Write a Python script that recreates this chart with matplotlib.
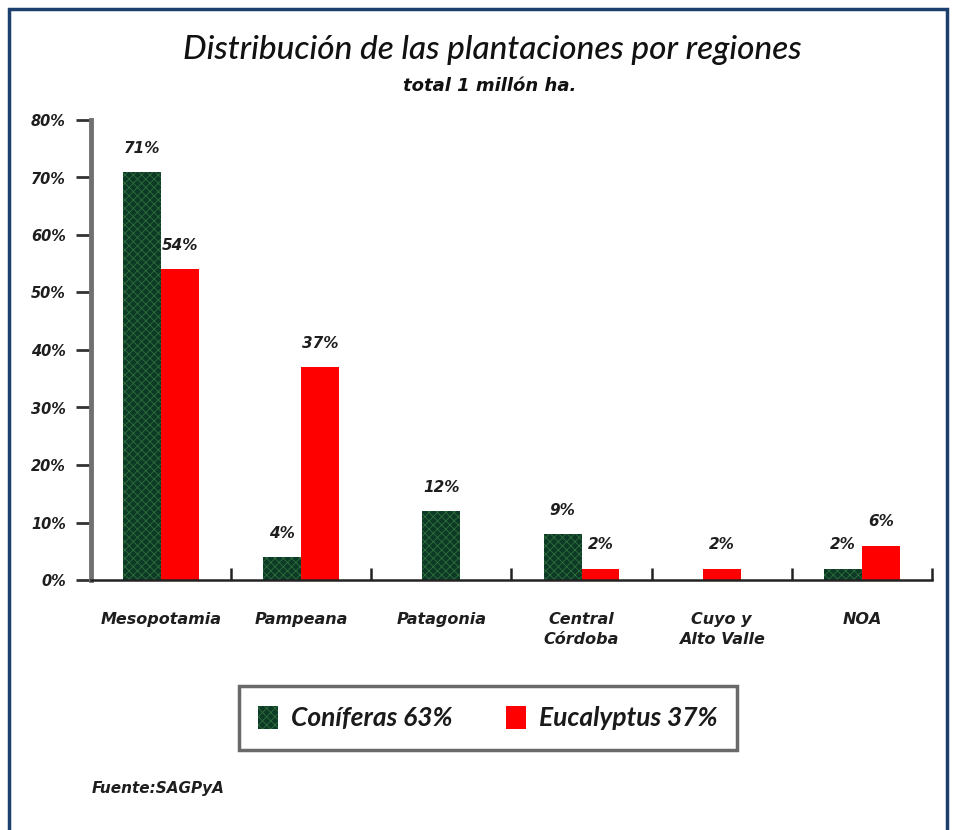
import matplotlib
matplotlib.use("Agg")
import matplotlib.pyplot as plt
from matplotlib.patches import Rectangle, Patch
import numpy as np

plt.rcParams['font.family'] = ['Lato', 'DejaVu Sans']
plt.rcParams['hatch.linewidth'] = 0.6

categories = ["Mesopotamia", "Pampeana", "Patagonia", "Central\nCórdoba", "Cuyo y\nAlto Valle", "NOA"]
coniferas = [71, 4, 12, 8, 0, 2]
eucalyptus = [54, 37, 0, 2, 2, 6]
coniferas_labels = ["71%", "4%", "12%", "9%", "", "2%"]
eucalyptus_labels = ["54%", "37%", "", "2%", "2%", "6%"]
yticks = [0, 10, 20, 30, 40, 50, 60, 70, 80]
ytick_labels = ["0%", "10%", "20%", "30%", "40%", "50%", "60%", "70%", "80%"]
legend_labels = ["Coníferas 63%", "Eucalyptus 37%"]
title = "Distribución de las plantaciones por regiones"
subtitle = "total 1 millón ha."
source = "Fuente:SAGPyA"

green = "#0c3a26"
green_hatch = "#2f6e3c"
red = "#ff0000"
txt = "#1e1e1e"
lab_font = dict(family=["DejaVu Sans"], fontweight="bold", fontstyle="italic", color=txt)

W, H = 954, 830
fig = plt.figure(figsize=(W / 100, H / 100), dpi=100)
ax = fig.add_axes([91 / W, 1 - 580 / H, (932 - 91) / W, (580 - 120) / H])

bw = 0.27
x = np.arange(len(categories))
for i in x:
    c, e = coniferas[i], eucalyptus[i]
    both = c > 0 and e > 0
    if c > 0:
        xc = i - bw / 2 if both else i
        ax.bar(xc, c, bw, color=green, edgecolor=green_hatch, hatch="xxxx", linewidth=0)
        ax.annotate(coniferas_labels[i], (xc, c), xytext=(0, 17), textcoords="offset points",
                    ha="center", va="center", fontsize=11, **lab_font)
    if e > 0:
        xe = i + bw / 2 if both else i
        ax.bar(xe, e, bw, color=red, linewidth=0)
        ax.annotate(eucalyptus_labels[i], (xe, e), xytext=(0, 17), textcoords="offset points",
                    ha="center", va="center", fontsize=11, **lab_font)

ax.set_xlim(-0.5, len(categories) - 0.5)
ax.set_ylim(0, 80)
ax.set_yticks(yticks)
ax.set_yticklabels(ytick_labels, fontsize=10.5, **lab_font)
ax.tick_params(axis="y", direction="out", length=11, width=2, color="#333333", pad=7)
ax.set_xticks(x)
ax.set_xticklabels(categories, fontsize=11.5, linespacing=1.45, va="top", **lab_font)
ax.tick_params(axis="x", length=0, pad=23)
ax.set_xticks(np.arange(0.5, len(categories), 1.0), minor=True)
ax.tick_params(axis="x", which="minor", direction="in", length=8.5, width=1.8, color="#222222")
for s in ["top", "right"]:
    ax.spines[s].set_visible(False)
ax.spines["left"].set_linewidth(3.5)
ax.spines["left"].set_color("#707070")
ax.spines["bottom"].set_linewidth(1.8)
ax.spines["bottom"].set_color("#222222")

fig.text(492 / W, 1 - 50 / H, title, ha="center", va="center", fontsize=24, fontstyle="italic",
         fontweight="medium", color="#111111")
fig.text(490 / W, 1 - 86 / H, subtitle, ha="center", va="center", fontsize=13,
         **dict(lab_font, color="#111111"))
fig.text(92 / W, 1 - 788 / H, source, ha="left", va="center", fontsize=11, **lab_font)

# legend
handles = [Patch(facecolor=green, edgecolor=green_hatch, hatch="xxxx", linewidth=0),
           Patch(facecolor=red, linewidth=0)]
leg = fig.legend(handles, legend_labels, loc="center", bbox_to_anchor=(488 / W, 1 - 718 / H),
                 ncol=2, frameon=True, fancybox=False, handlelength=0.75, handleheight=1.0,
                 columnspacing=2.0, handletextpad=0.5, borderpad=0.75, borderaxespad=0,
                 prop={"size": 19, "style": "italic", "weight": "bold"})
leg.get_frame().set_edgecolor("#444444")
leg.get_frame().set_linewidth(2.5)
for t in leg.get_texts():
    t.set_color("#1a1a1a")

# outer border
fig.patches.append(Rectangle((9 / W, -0.1), (947 - 9) / W, 1.1 - 9 / H, transform=fig.transFigure,
                             fill=False, edgecolor="#1c3f6e", linewidth=2.5, clip_on=False))

fig.savefig("out.png", dpi=100)
